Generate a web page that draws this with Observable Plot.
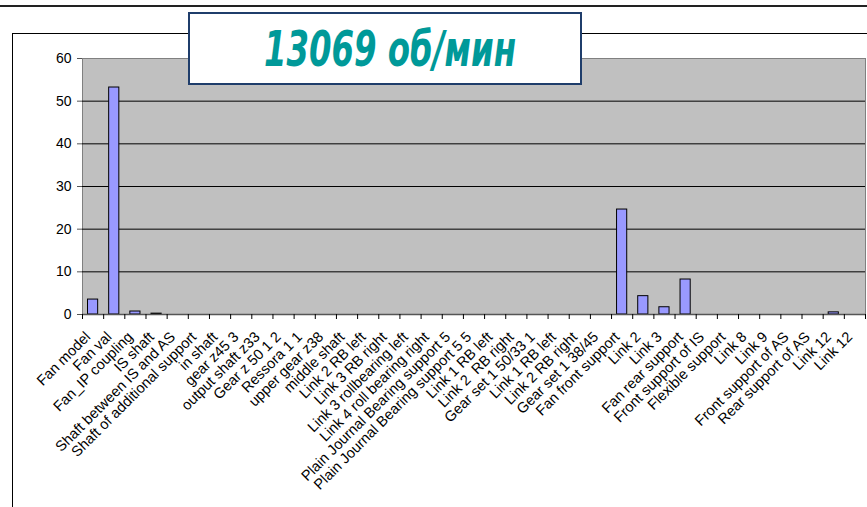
<!DOCTYPE html>
<html>
<head>
<meta charset="utf-8">
<script src="https://cdn.jsdelivr.net/npm/d3@7"></script>
<script src="https://cdn.jsdelivr.net/npm/@observablehq/plot@0.6"></script>
<style>
  html, body { margin: 0; padding: 0; background: #fff; }
  #wrap { position: relative; width: 867px; height: 507px; overflow: hidden; font-family: "Liberation Sans", Arial, sans-serif; }
  #chart { position: absolute; left: 0; top: 0; }
  .topline { position: absolute; left: 0; top: 5px; width: 867px; height: 2px; background: #222; }
  .frame { position: absolute; left: 12px; top: 33px; width: 870px; height: 480px; border-left: 1px solid #000; border-top: 1px solid #000; box-sizing: border-box; }
  .titlebox { position: absolute; left: 188px; top: 12px; width: 394px; height: 73px; border: 2px solid #1f3d6b; box-sizing: border-box; background: #fff; }
</style>
</head>
<body>
<div id="wrap">
  <div class="topline"></div>
  <div class="frame"></div>
  <div id="chart"></div>
  <div class="titlebox">
    <svg width="390" height="69" style="position:absolute;left:0;top:0;overflow:visible">
      <text id="title" x="74" y="52" textLength="252" lengthAdjust="spacingAndGlyphs"
        style="font-family:'Liberation Sans Narrow','DejaVu Sans Condensed','Liberation Sans',sans-serif;font-weight:bold;font-style:italic;font-size:50px;fill:#009999"></text>
    </svg>
  </div>
</div>
<script>
const titleText = "13069 об/мин";

const categories = [
  "Fan model", "Fan val", "Fan_IP coupling", "IS shaft", "Shaft between IS and AS",
  "Shaft of additional support", "in shaft", "gear z45 3", "output shaft z33", "Gear z 50 1 2",
  "Ressora 1 1", "upper gear z38", "middle shaft", "Link 2 RB left", "Link 3 RB right",
  "Link 3 rollbearing left", "Link 4 roll bearing right", "Plain Journal Bearing support 5",
  "Plain Journal Bearing support 5 5", "Link 1 RB left", "Link 2  RB right", "Gear set 1 50/33 1",
  "Link 1 RB left", "Link 2 RB right", "Gear set 1 38/45", "Fan front support", "Link 2", "Link 3",
  "Fan rear support", "Front support of IS", "Flexible support", "Link 8", "Link 9",
  "Front support of AS", "Rear support of AS", "Link 12", "Link 12"
];

const values = [
  3.5, 53.2, 0.7, 0.2, 0,
  0, 0, 0, 0, 0,
  0, 0, 0, 0, 0,
  0, 0, 0,
  0, 0, 0, 0,
  0, 0, 0, 24.6, 4.3, 1.7,
  8.2, 0, 0, 0, 0,
  0, 0, 0.5, 0
];

const yTicks = [0, 10, 20, 30, 40, 50, 60];
const gridValues = [10, 20, 30, 40, 50];

document.getElementById("title").textContent = titleText;

const table = categories.map((name, i) => ({ i, name, value: values[i] }));
const n = categories.length;

const chart = Plot.plot({
  width: 867,
  height: 507,
  marginLeft: 82,
  marginRight: 2,
  marginTop: 58,
  marginBottom: 193,
  style: { fontFamily: "'Liberation Sans', Arial, sans-serif", fontSize: "14px", background: "transparent", color: "#000" },
  x: { type: "linear", domain: [0, n] },
  y: { domain: [0, 60] },
  marks: [
    Plot.frame({ fill: "#c0c0c0", stroke: "#808080" }),
    Plot.ruleY(gridValues, { stroke: "#000", strokeWidth: 1 }),
    Plot.rectY(table.filter(d => d.value > 0), {
      x1: "i", x2: d => d.i + 1, y: "value",
      insetLeft: 5.5, insetRight: 5.5,
      fill: "#9999ff", stroke: "#000", strokeWidth: 1
    }),
    Plot.ruleY([0], { stroke: "#555", strokeWidth: 1.5 }),
    Plot.axisY({ ticks: yTicks, tickSize: 5, tickPadding: 6, fontSize: 14, stroke: "#555", label: null }),
    Plot.axisX({ ticks: d3.range(n + 1), tickSize: 5, tickFormat: () => "", stroke: "#000", label: null }),
    Plot.axisX({
      ticks: d3.range(n).map(i => i + 0.5),
      tickFormat: v => categories[Math.floor(v)],
      tickRotate: -45, tickSize: 0, tickPadding: 10,
      dx: -5, dy: 10,
      fontSize: 14.6, label: null
    })
  ]
});
document.getElementById("chart").appendChild(chart);
</script>
</body>
</html>
